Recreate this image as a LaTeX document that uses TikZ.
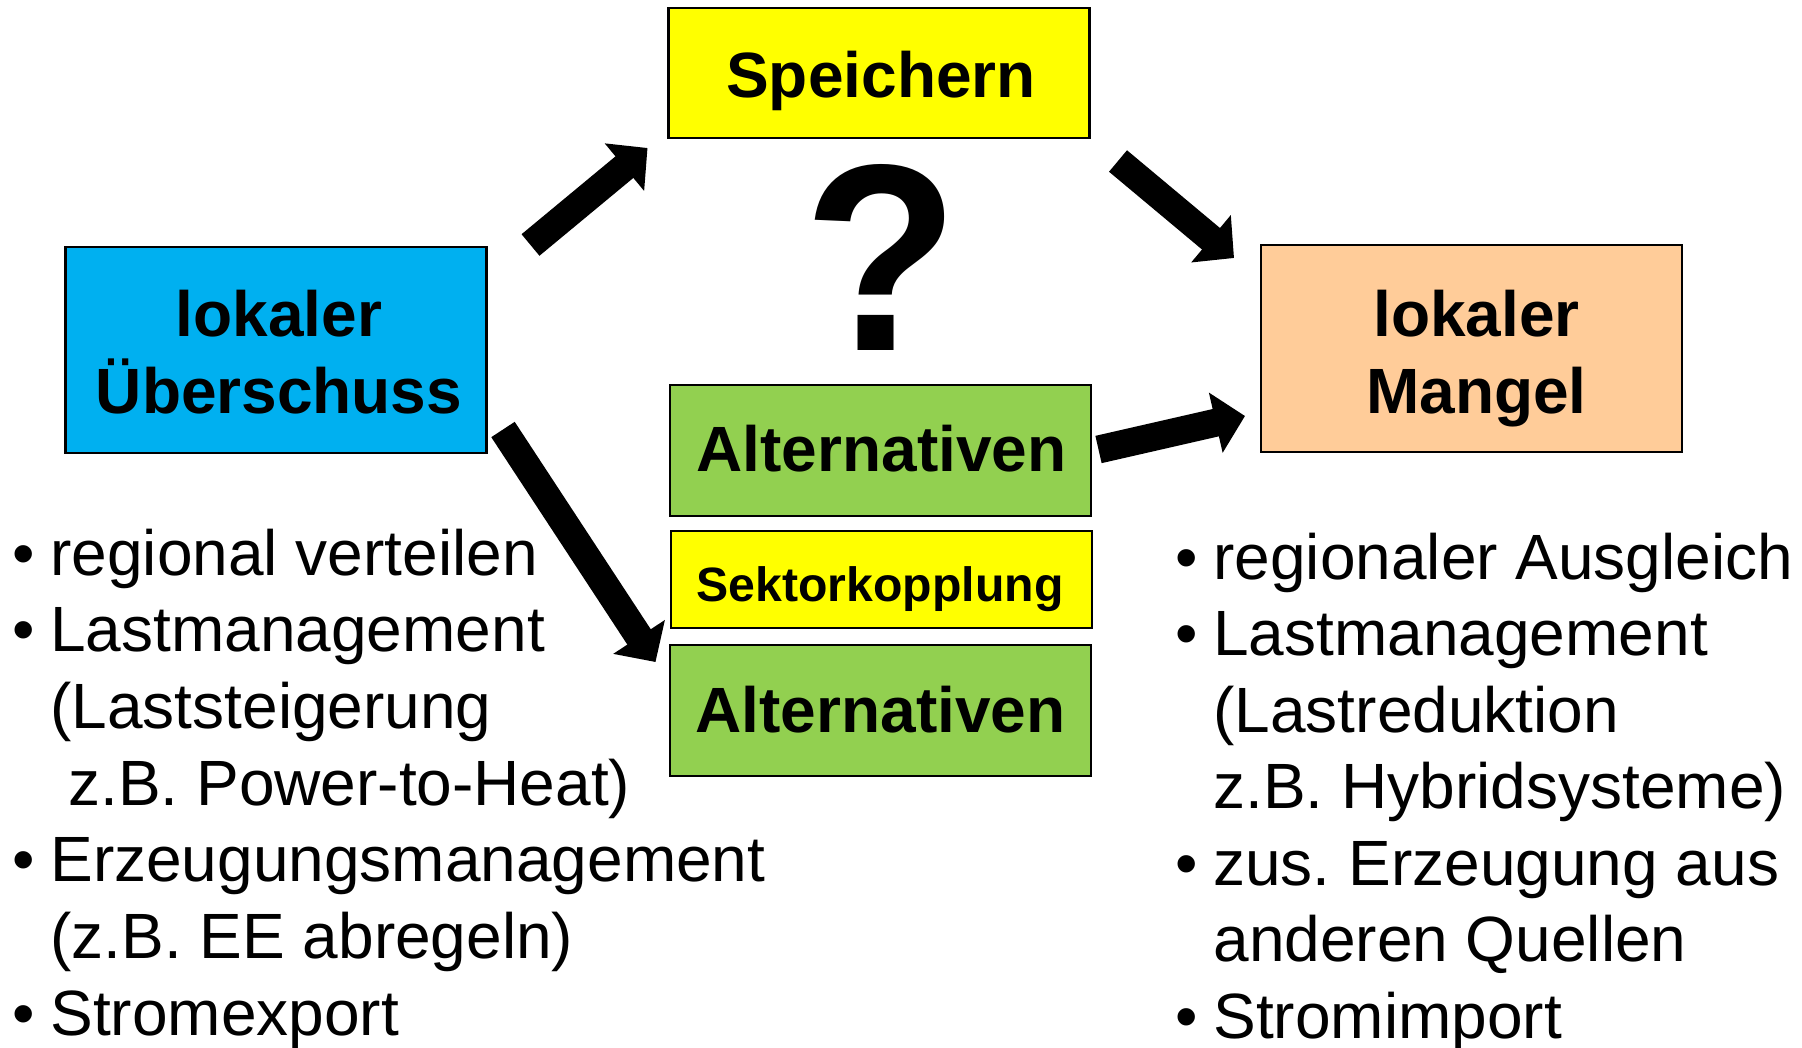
\documentclass[tikz,border=0pt]{standalone}
\usepackage{fontspec}
\setmainfont{Liberation Sans}
\usetikzlibrary{arrows.meta,calc}
\frenchspacing
\newcommand{\lbul}{\llap{\makebox[19pt][l]{•}}}
\definecolor{cblue}{HTML}{00B0F0}
\definecolor{cpeach}{HTML}{FFCC99}
\definecolor{cyel}{HTML}{FFFF00}
\definecolor{cgreen}{HTML}{92D050}
\tikzset{
  box/.style={draw=black, line width=1.2pt, minimum width=210.5pt, inner sep=0pt, outer sep=0pt},
  btxt/.style={font=\bfseries\fontsize{32}{38}\selectfont, inner sep=0pt, anchor=base},
  ltxt/.style={font=\fontsize{32}{38}\selectfont, inner sep=0pt, anchor=base west},
  bigarrow/.style={line width=14pt, -{Triangle[length=15pt,width=30pt]}},
}
\begin{document}
\begin{tikzpicture}[x=0.5pt,y=-0.5pt]
\useasboundingbox[fill=white] (0,0) rectangle (1802,1048);
% boxes
\node[box, fill=cblue, minimum height=103pt] (ueb) at (276,350) {};
\node[box, fill=cpeach, minimum height=103.5pt] (man) at (1471.5,348.5) {};
\node[box, fill=cyel, minimum height=65pt] (spe) at (879,73) {};
\node[box, fill=cgreen, minimum height=65.5pt] (alt1) at (880.5,450.5) {};
\node[box, fill=cyel, minimum height=48.5pt] (sek) at (881.5,579.5) {};
\node[box, fill=cgreen, minimum height=65.5pt] (alt2) at (880.5,710.5) {};
% box texts
\node[btxt] (ueb1) at ($(ueb.center)+(3,-14)$) {lokaler};
\node[btxt] (ueb2) at ($(ueb.center)+(3,63)$) {Überschuss};
\node[btxt] (man1) at ($(man.center)+(5,-12.5)$) {lokaler};
\node[btxt] (man2) at ($(man.center)+(5,64.5)$) {Mangel};
\node[btxt] (spet) at ($(spe.center)+(2,25)$) {Speichern};
\node[btxt] (alt1t) at ($(alt1.center)+(1,20.5)$) {Alternativen};
\node[btxt, font=\bfseries\fontsize{24.1}{28}\selectfont] (sekt) at ($(sek.center)+(-1.5,21.5)$) {Sektorkopplung};
\node[btxt] (alt2t) at ($(alt2.center)+(0,21.5)$) {Alternativen};
% question mark
\node[btxt, font=\bfseries\fontsize{127.5}{130}\selectfont] (qm) at (881,350) {\scalebox{1}[1.045]{?}};
% arrows
\draw[bigarrow] ($(ueb.north east)+(44,-2)$) -- ($(spe.south west)+(-21,10)$);
\draw[bigarrow] ($(spe.south east)+(28.5,23)$) -- ($(man.north west)+(-27,13)$);
\draw[bigarrow] ($(alt1.east)+(7.5,-1)$) -- ($(man.south west)+(-16,-36)$);
\draw[bigarrow] ($(ueb.south east)+(16.5,-23.5)$) -- ($(alt2.north west)+(-14.5,17)$);
% left list
\node[ltxt] (l1) at (50,575) {\lbul regional verteilen};
\node[ltxt] (l2) at (50,651.67) {\lbul Lastmanagement};
\node[ltxt] (l3) at (50,728.33) {(Laststeigerung};
\node[ltxt] (l4) at (68,805) {z.B. Power-to-Heat)};
\node[ltxt] (l5) at (50,881.67) {\lbul Erzeugungsmanagement};
\node[ltxt] (l6) at (50,958.33) {(z.B. EE abregeln)};
\node[ltxt] (l7) at (50,1035) {\lbul Stromexport};
% right list
\node[ltxt] (r1) at (1213,579) {\lbul regionaler Ausgleich};
\node[ltxt] (r2) at (1213,655.5) {\lbul Lastmanagement};
\node[ltxt] (r3) at (1213,732) {(Lastreduktion};
\node[ltxt] (r4) at (1213,808.5) {z.B. Hybridsysteme)};
\node[ltxt] (r5) at (1213,885) {\lbul zus. Erzeugung aus};
\node[ltxt] (r6) at (1213,961.5) {anderen Quellen};
\node[ltxt] (r7) at (1213,1038) {\lbul Stromimport};
\end{tikzpicture}
\end{document}
